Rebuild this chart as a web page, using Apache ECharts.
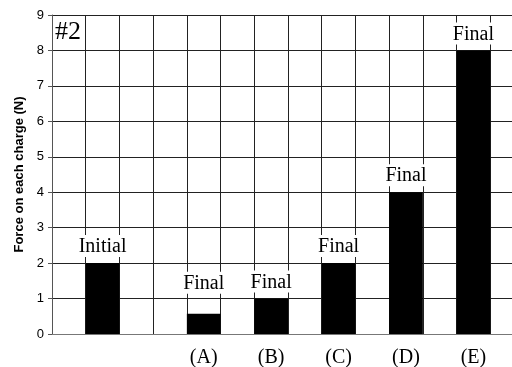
<!DOCTYPE html>
<html style="height: 100%">
<head>
    <meta charset="UTF-8">
    <title>Force</title>
    <script type="text/javascript" src="https://cdn.jsdelivr.net/npm/echarts@6/dist/echarts.min.js"></script>
</head>
<body style="height: 100%; margin: 0; background: #fff">
    <div id="container" style="width: 512px; height: 367px"></div>
<script>
    // one entry per grid column; blank entries are the empty columns
    var tickLabels = ['', '', '', '', '(A)', '', '(B)', '', '(C)', '', '(D)', '', '(E)', ''];
    var forces = [null, 2, null, null, 0.57, null, 1, null, 2, null, 4, null, 8, null];
    var barTags = [null, 'Initial', null, null, 'Final', null, 'Final', null, 'Final', null, 'Final', null, 'Final', null];
    var yTicks = [0, 1, 2, 3, 4, 5, 6, 7, 8, 9];

    var myChart = echarts.init(document.getElementById('container'));

    var serif = '"Liberation Serif", "DejaVu Serif", serif';
    var sans = '"Liberation Sans", Arial, sans-serif';

    // short bars get their tag lifted a bit higher, like the original
    var barData = forces.map(function (v) {
        if (v !== null && v < 1) {
            return { value: v, label: { distance: 20 } };
        }
        return v;
    });

    var option = {
        animation: false,
        backgroundColor: '#fff',
        grid: {
            left: 52,
            top: 15,
            bottom: 33,
            width: 472,
            outerBoundsMode: 'none'
        },
        graphic: [{
            type: 'text',
            left: 55,
            top: 19,
            style: {
                text: '#2',
                font: '26px ' + serif,
                fill: '#000'
            }
        }],
        xAxis: {
            type: 'category',
            data: tickLabels,
            boundaryGap: true,
            axisLine: { lineStyle: { color: '#777', width: 1 } },
            axisTick: { show: false },
            axisLabel: {
                interval: 0,
                margin: 14,
                color: '#000',
                fontFamily: serif,
                fontSize: 20
            },
            splitLine: {
                show: true,
                interval: 0,
                lineStyle: { color: '#222', width: 1 }
            }
        },
        yAxis: {
            type: 'value',
            min: yTicks[0],
            max: yTicks[yTicks.length - 1],
            interval: 1,
            name: 'Force on each charge (N)',
            nameLocation: 'middle',
            nameGap: 25,
            nameTextStyle: {
                color: '#000',
                fontFamily: sans,
                fontSize: 13,
                fontWeight: 'bold'
            },
            axisLine: { show: true, lineStyle: { color: '#555', width: 1 } },
            axisTick: { show: true, length: 4, lineStyle: { color: '#555' } },
            axisLabel: {
                color: '#000',
                fontFamily: sans,
                fontSize: 13,
                margin: 8
            },
            splitLine: { lineStyle: { color: '#222', width: 1 } }
        },
        series: [{
            type: 'bar',
            data: barData,
            barWidth: '100%',
            itemStyle: { color: '#000' },
            label: {
                show: true,
                position: 'top',
                distance: 6,
                formatter: function (p) { return barTags[p.dataIndex] || ''; },
                color: '#000',
                fontFamily: serif,
                fontSize: 20,
                backgroundColor: '#fff',
                padding: [2, 2, 0, 2]
            }
        }]
    };
    myChart.setOption(option);
</script>
</body>
</html>
